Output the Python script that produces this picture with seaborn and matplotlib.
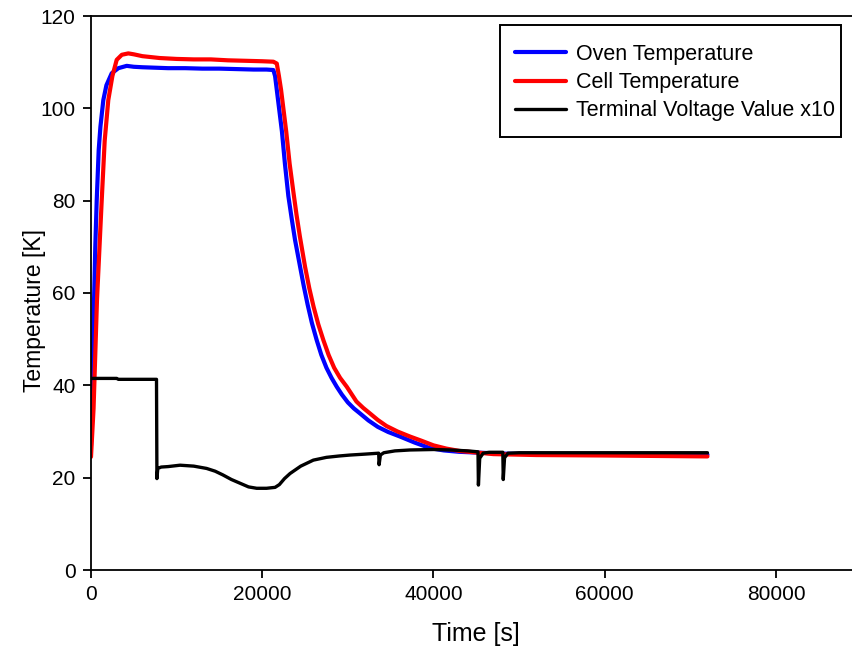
import matplotlib
matplotlib.use("Agg")
import matplotlib.pyplot as plt
from matplotlib.patches import Rectangle
import numpy as np
import pandas as pd
import seaborn as sns

# Oven temperature trace
oven_t = [0, 150, 350, 500, 666, 900, 1100, 1440, 1800, 2420, 3200, 4170, 5000,
          6000, 7500, 9000, 11000, 13000, 15000, 17000, 19000, 20500, 21300,
          21500, 21700, 22000, 22300, 22650, 23050, 23450, 23830, 24420, 24850,
          25300, 25800, 26360, 26900, 27500, 28100, 28700, 29300, 30000, 30700,
          31430, 32400, 33500, 34700, 36100, 37800, 39600, 41200, 43000, 48000,
          55000, 65000, 72000]
oven_temp = [27.0, 40.0, 58.0, 70.0, 80.0, 91.0, 96.0, 101.8, 105.0, 107.6, 108.7,
             109.2, 109.0, 108.9, 108.8, 108.7, 108.7, 108.6, 108.6, 108.5, 108.4,
             108.4, 108.3, 107.0, 104.0, 99.5, 95.0, 88.0, 81.0, 76.0, 71.5, 65.7,
             61.5, 57.5, 53.5, 49.8, 46.6, 43.8, 41.6, 39.7, 38.0, 36.3, 35.0, 33.9,
             32.4, 31.0, 29.9, 28.9, 27.6, 26.4, 25.9, 25.6, 25.2, 25.1, 25.0, 25.0]

# Cell temperature trace
cell_t = [0, 300, 700, 1250, 1600, 2020, 2500, 3000, 3600, 4360, 5000, 6000, 8000,
          10000, 12000, 14000, 16000, 18000, 20000, 21300, 21700, 21950, 22200,
          22500, 22800, 23200, 23630, 24000, 24400, 25000, 25500, 26000, 26550,
          27140, 27750, 28400, 29100, 29870, 30400, 31000, 31800, 32590, 33500,
          34500, 35800, 37270, 38600, 40000, 41500, 43000, 47000, 52000, 60000,
          66000, 72000]
cell_temp = [24.5, 35.0, 58.5, 80.0, 93.0, 101.8, 107.0, 110.5, 111.6, 111.9, 111.7,
             111.3, 110.9, 110.7, 110.6, 110.6, 110.4, 110.3, 110.2, 110.1, 109.7,
             107.0, 104.0, 99.5, 95.0, 88.0, 82.0, 77.0, 72.2, 65.7, 61.0, 57.0,
             53.2, 49.8, 46.6, 43.8, 41.6, 39.7, 38.2, 36.5, 35.1, 33.9, 32.5, 31.2,
             30.0, 28.9, 28.0, 27.0, 26.3, 25.8, 25.1, 24.9, 24.8, 24.7, 24.6]

# Terminal voltage (scaled by 10)
volt_t = [0, 3000, 3200, 7650, 7700, 7800, 8200, 9000, 10400, 12000, 13500, 14500,
          15400, 16400, 17400, 18400, 19350, 20500, 21500, 22000, 22600, 23250,
          24500, 25970, 27500, 29000, 30260, 32000, 33600, 33650, 33800, 34200,
          35500, 37270, 40000, 41940, 44000, 45200, 45250, 45400, 45800, 46500,
          48100, 48150, 48300, 48700, 50000, 72000]
volt_x10 = [41.5, 41.5, 41.3, 41.3, 19.8, 22.0, 22.3, 22.4, 22.7, 22.5, 22.0, 21.4,
            20.6, 19.6, 18.8, 18.0, 17.7, 17.7, 17.9, 18.5, 19.8, 20.9, 22.5, 23.8,
            24.4, 24.7, 24.9, 25.1, 25.3, 22.8, 24.9, 25.4, 25.8, 26.0, 26.1, 26.0,
            25.8, 25.6, 18.4, 24.2, 25.3, 25.5, 25.5, 19.6, 24.3, 25.3, 25.4, 25.4]

labels = ["Oven Temperature", "Cell Temperature", "Terminal Voltage Value x10"]
colors = ["#0000ff", "#ff0000", "#000000"]
widths = [3.0, 3.0, 2.4]

sns.set_style("ticks")
plt.rcParams["font.family"] = ["Liberation Sans", "DejaVu Sans"]
plt.rcParams["text.color"] = "black"
plt.rcParams["axes.labelcolor"] = "black"

W, H = 853, 650
fig = plt.figure(figsize=(W / 100, H / 100), dpi=100)
ax = fig.add_axes([91 / W, 80 / H, (W - 91) / W, (570 - 16) / H])

series = [(oven_t, oven_temp), (cell_t, cell_temp), (volt_t, volt_x10)]
for (t, v), lab, col, lw in zip(series, labels, colors, widths):
    df = pd.DataFrame({"Time": t, "Value": v})
    sns.lineplot(data=df, x="Time", y="Value", ax=ax, color=col, linewidth=lw,
                 label=lab, estimator=None, sort=False)

ax.set_xlim(0, 89000)
ax.set_ylim(0, 120)
ax.set_xticks([0, 20000, 40000, 60000, 80000])
ax.set_xticklabels(["0", "20000", "40000", "60000", "80000"])
ax.set_yticks([0, 20, 40, 60, 80, 100, 120])

for side in ["left", "bottom", "top"]:
    ax.spines[side].set_visible(True)
    ax.spines[side].set_linewidth(1.3)
    ax.spines[side].set_color("black")
ax.spines["right"].set_visible(False)
ax.tick_params(axis="both", direction="out", length=6, width=1.3, labelsize=15,
               colors="black", pad=5, top=False, right=False)

ax.set_xlabel("Time [s]", fontsize=18, color="black")
ax.set_ylabel("Temperature [K]", fontsize=16.5, color="black")
ax.xaxis.set_label_coords((476 - 91) / 762, (570 - 622) / 554)
ax.yaxis.set_label_coords((46 - 91) / 762, (570 - 311) / 554)

# Legend entries without their own frame; a plain box is drawn behind them
leg = ax.legend(loc="upper left", bbox_to_anchor=(515 / W, 1 - 44 / H),
                bbox_transform=fig.transFigure, borderaxespad=0, fontsize=15.5,
                frameon=False, handlelength=2.35, handletextpad=0.5,
                labelspacing=0.33, borderpad=0, labelcolor="black")
leg.set_zorder(6)
box = Rectangle((500 / W, 1 - 137 / H), 341 / W, 112 / H, transform=fig.transFigure,
                facecolor="white", edgecolor="black", linewidth=1.4, zorder=5,
                clip_on=False)
ax.add_artist(box)

fig.savefig("out.png", dpi=100, facecolor="white")
